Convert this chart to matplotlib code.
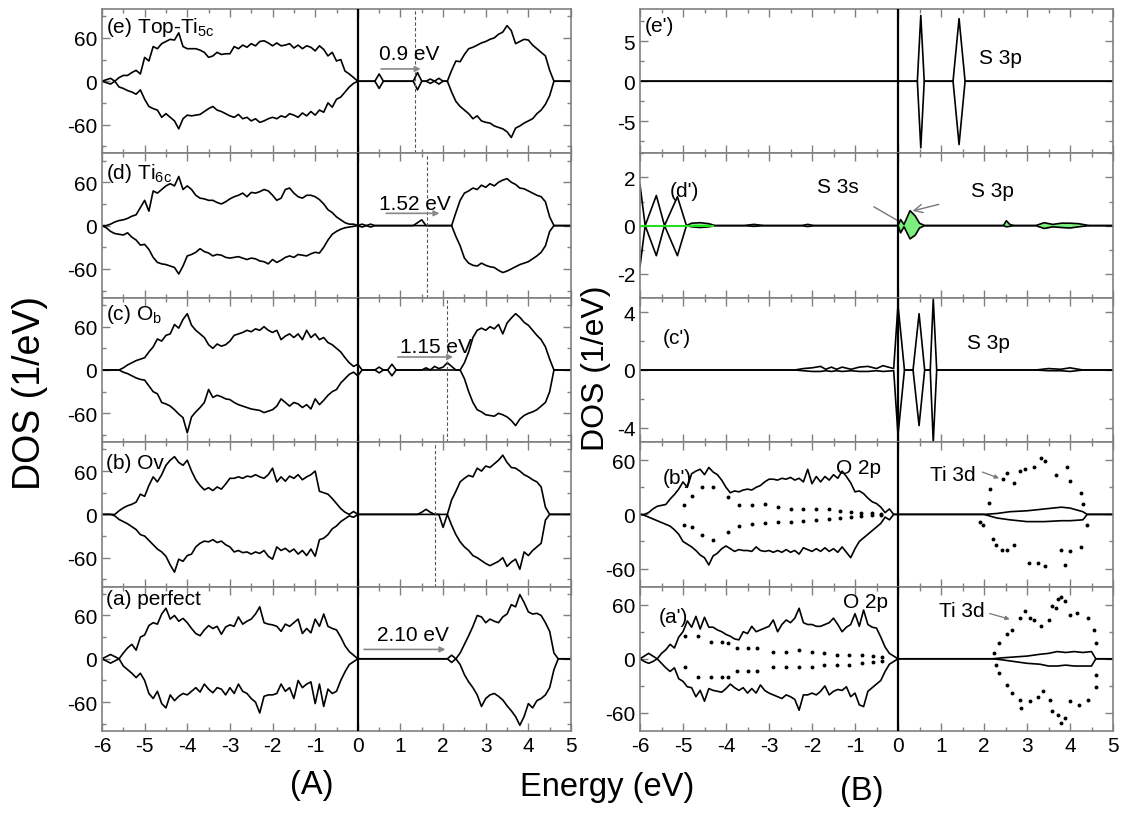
import numpy as np
import matplotlib
matplotlib.use("Agg")
import matplotlib.pyplot as plt
from matplotlib.ticker import MultipleLocator

plt.rcParams['font.family'] = ['Liberation Sans', 'DejaVu Sans']
plt.rcParams['mathtext.fontset'] = 'custom'
plt.rcParams['mathtext.rm'] = 'Liberation Sans'
plt.rcParams['axes.unicode_minus'] = False

# energy grids (eV): valence band -6..0, gap + conduction band 0.1..5
E_vb = np.linspace(-6.0, 0.0, 61)
E_cb = np.linspace(0.1, 5.0, 50)

# ---- (A) total DOS, spin up / spin down ----
e_vb_up = [0, 2, 4, 0, 5, 8, 8, 12, 15, 10,
           33, 28, 48, 45, 52, 55, 58, 57, 67, 48,
           45, 45, 45, 43, 40, 33, 35, 40, 37, 38,
           38, 48, 45, 50, 47, 52, 49, 55, 56, 53,
           49, 53, 49, 50, 52, 46, 50, 45, 49, 47,
           42, 49, 44, 35, 40, 28, 30, 14, 10, 5, 0]
e_vb_dn = [0, -2, -4, 0, -8, -10, -13, -15, -18, -12,
           -25, -35, -38, -40, -50, -45, -50, -55, -66, -52,
           -47, -48, -47, -46, -42, -38, -35, -40, -42, -45,
           -48, -50, -46, -52, -50, -55, -52, -57, -55, -52,
           -50, -52, -48, -50, -45, -47, -50, -44, -48, -42,
           -47, -40, -43, -30, -36, -25, -22, -15, -8, -3, 0]
e_cb_up = [0, 0, 0, 0, 10, 0, 0, 0, 0, 0,
           0, 0, 0, 12, 0, 0, 3, 0, 4, 0,
           0, 15, 28, 27, 37, 45, 47, 50, 53, 55,
           58, 60, 65, 68, 77, 70, 52, 55, 58, 57,
           50, 45, 40, 35, 15, 0, 0, 0, 0, 0]
e_cb_dn = [0, 0, 0, 0, -10, 0, 0, 0, 0, 0,
           0, 0, 0, -12, 0, 0, -3, 0, -4, 0,
           0, -15, -28, -35, -40, -45, -52, -48, -55, -57,
           -58, -62, -64, -66, -70, -78, -65, -62, -58, -55,
           -52, -45, -40, -32, -20, 0, 0, 0, 0, 0]

d_vb_up = [0, 0, 2, 5, 7, 8, 10, 13, 15, 25,
           35, 20, 48, 45, 50, 55, 58, 55, 68, 50,
           55, 50, 42, 38, 37, 35, 35, 32, 30, 33,
           37, 40, 42, 45, 40, 46, 45, 47, 50, 48,
           42, 35, 38, 50, 52, 45, 40, 38, 42, 42,
           40, 36, 30, 22, 18, 12, 8, 4, 2, 2, 0]
d_vb_dn = [0, -3, -8, -11, -12, -13, -10, -16, -20, -27,
           -26, -33, -44, -51, -53, -54, -56, -58, -67, -56,
           -42, -40, -37, -32, -36, -38, -42, -40, -41, -44,
           -45, -44, -43, -45, -47, -45, -46, -49, -50, -53,
           -47, -51, -48, -44, -42, -44, -40, -41, -42, -39,
           -37, -38, -30, -20, -12, -8, -5, -3, -2, -1, 0]
d_cb_up = [2, 0, 2, 0, 0, 0, 0, 0, 0, 0,
           0, 0, 0, 4, 8, 0, 0, 0, 0, 0,
           0, 0, 18, 35, 45, 48, 52, 50, 56, 53,
           58, 55, 60, 63, 65, 60, 57, 52, 51, 48,
           45, 42, 40, 33, 12, 0, 0, 0, 0, 0]
d_cb_dn = [-2, 0, -2, 0, 0, 0, 0, 0, 0, 0,
           0, 0, 0, 0, 0, 0, 0, 0, 0, 0,
           0, 0, -15, -28, -45, -52, -55, -56, -52, -55,
           -57, -58, -62, -65, -63, -60, -57, -54, -52, -50,
           -46, -42, -37, -28, -8, 0, 0, 0, 0, 0]

c_vb_up = [0, 0, 0, 0, 0, 3, 7, 10, 13, 15,
           17, 25, 32, 43, 40, 48, 50, 63, 58, 70,
           78, 62, 55, 50, 45, 35, 30, 36, 33, 35,
           40, 48, 50, 52, 55, 53, 57, 55, 60, 55,
           52, 55, 42, 47, 50, 45, 50, 42, 55, 45,
           50, 42, 45, 38, 35, 30, 25, 17, 10, 5, 8]
c_vb_dn = [0, 0, 0, 0, 0, -3, -5, -8, -11, -13,
           -14, -22, -30, -33, -45, -47, -50, -55, -61, -66,
           -87, -65, -58, -52, -45, -27, -38, -35, -37, -40,
           -41, -45, -48, -50, -52, -54, -55, -56, -59, -57,
           -55, -50, -40, -45, -50, -45, -47, -52, -48, -54,
           -40, -48, -42, -35, -30, -27, -18, -12, -6, -3, -8]
c_cb_up = [0, 0, 0, 0, 4, 0, 0, 8, 0, 0,
           0, 0, 0, 0, 0, 3, 0, 5, 2, 4,
           10, 5, 0, 0, 10, 25, 45, 55, 58, 55,
           60, 57, 63, 50, 65, 72, 78, 73, 66, 62,
           55, 48, 42, 32, 15, 0, 0, 0, 0, 0]
c_cb_dn = [0, 0, 0, 0, -4, 0, 0, -8, 0, 0,
           0, 0, 0, 0, 0, 0, 0, 0, 0, 0,
           0, 0, 0, 0, -12, -30, -45, -55, -58, -62,
           -63, -64, -60, -62, -65, -70, -77, -68, -63, -60,
           -58, -55, -50, -45, -30, 0, 0, 0, 0, 0]

b_vb_up = [0, 0, 0, 0, 5, 9, 12, 14, 17, 28,
           25, 40, 52, 45, 55, 68, 75, 80, 72, 68,
           75, 60, 48, 40, 34, 37, 33, 38, 35, 42,
           50, 50, 52, 50, 53, 52, 55, 52, 50, 55,
           64, 45, 52, 46, 53, 50, 55, 48, 52, 55,
           60, 32, 30, 28, 22, 15, 8, 3, 0, 4, 0]
b_vb_dn = [0, 0, 0, -2, -7, -10, -13, -17, -21, -28,
           -30, -36, -42, -48, -52, -58, -70, -80, -62, -65,
           -57, -55, -45, -40, -37, -38, -35, -39, -37, -42,
           -45, -52, -50, -53, -52, -55, -52, -54, -50, -58,
           -62, -45, -50, -47, -52, -48, -55, -50, -57, -48,
           -58, -35, -33, -28, -20, -16, -10, -6, -2, -4, 0]
b_cb_up = [0, 0, 0, 0, 0, 0, 0, 0, 0, 0,
           0, 0, 0, 0, 3, 7, 3, 0, 0, 0,
           0, 20, 32, 45, 50, 54, 52, 64, 60, 67,
           65, 70, 75, 82, 72, 65, 64, 60, 55, 52,
           48, 45, 38, 10, 0, 0, 0, 0, 0, 0]
b_cb_dn = [0, 0, 0, 0, 0, 0, 0, 0, 0, 0,
           0, 0, 0, 0, 0, 0, 0, 0, 0, -18,
           0, -15, -28, -38, -45, -50, -57, -60, -64, -68,
           -71, -68, -65, -60, -72, -66, -62, -76, -52, -57,
           -50, -45, -40, -8, 0, 0, 0, 0, 0, 0]

a_vb_up = [0, 3, 6, 3, 0, 8, 15, 20, 12, 30,
           33, 46, 50, 48, 62, 70, 55, 60, 52, 56,
           50, 42, 35, 32, 40, 46, 42, 45, 34, 44,
           47, 45, 58, 48, 52, 55, 62, 72, 50, 48,
           47, 45, 38, 48, 45, 50, 55, 35, 42, 36,
           55, 45, 62, 45, 42, 40, 30, 18, 10, 5, 0]
a_vb_dn = [0, -3, -6, -3, 0, -10, -15, -20, -26, -20,
           -30, -48, -55, -45, -62, -68, -50, -58, -52, -48,
           -50, -45, -40, -46, -35, -42, -47, -40, -42, -50,
           -40, -48, -35, -45, -48, -55, -60, -75, -52, -50,
           -50, -48, -35, -45, -40, -55, -30, -40, -35, -32,
           -62, -35, -66, -42, -48, -45, -30, -18, -8, -4, 0]
a_cb_up = [0, 0, 0, 0, 0, 0, 0, 0, 0, 0,
           0, 0, 0, 0, 0, 0, 0, 0, 0, 0,
           0, 5, 0, 8, 20, 32, 45, 60, 58, 50,
           55, 52, 50, 58, 62, 75, 72, 89, 78, 65,
           62, 63, 60, 50, 38, 8, 0, 0, 0, 0]
a_cb_dn = [0, 0, 0, 0, 0, 0, 0, 0, 0, 0,
           0, 0, 0, 0, 0, 0, 0, 0, 0, 0,
           0, -5, 0, -8, -22, -32, -40, -50, -66, -55,
           -50, -48, -52, -57, -65, -72, -80, -92, -80, -62,
           -68, -58, -55, -50, -40, -15, 0, 0, 0, 0]

left_labels = [r'(e) Top-Ti$_{\mathregular{5c}}$', r'(d) Ti$_{\mathregular{6c}}$',
               r'(c) O$_{\mathregular{b}}$', '(b) Ov', '(a) perfect']
label_y = [0.88, 0.87, 0.89, 0.86, 0.92]
gap_text = ['0.9 eV', '1.52 eV', '1.15 eV', None, '2.10 eV']
gap_from = [0.48, 0.60, 0.87, None, 0.08]
gap_to = [1.54, 1.98, 2.30, None, 2.12]
gap_arrow_y = [17, 17, 18, None, 13]
gap_text_xy = [(1.21, 38), (1.33, 30), (1.84, 33), None, (1.29, 33)]
fermi_dash = [1.33, 1.62, 2.08, 1.80, None]

# ---- (B) S partial DOS ----
ep_E = [-6.0, 0.45, 0.53, 0.61, 1.28, 1.42, 1.56, 5.0]
ep_up = [0, 0, 8.2, 0, 0, 7.8, 0, 0]
ep_dn = [0, 0, -8.3, 0, 0, -7.9, 0, 0]

dp_E = [-6.0, -5.88, -5.62, -5.43, -5.13, -4.92, -4.8, -4.6, -4.4, -4.25,
        -3.6, -3.35, -3.1, -2.25, -2.1, -1.95, 0.0, 0.06, 0.14, 0.28,
        0.4, 0.5, 0.62, 2.45, 2.52, 2.6, 2.7, 3.2, 3.4, 3.6,
        3.8, 4.0, 4.2, 4.45, 5.0]
dp_up = [1.7, 0, 1.25, 0, 1.2, 0, 0.1, 0.12, 0.08, 0,
         0, 0.05, 0, 0, 0.05, 0, 0, 0.25, 0.05, 0.62,
         0.4, 0.1, 0, 0, 0.2, 0.05, 0, 0, 0.12, 0.05,
         0.1, 0.1, 0.08, 0, 0]
dp_dn = [-1.7, 0, -1.25, 0, -1.25, 0, -0.05, -0.08, -0.05, 0,
         0, -0.03, 0, 0, -0.04, 0, 0, -0.3, -0.05, -0.55,
         -0.4, -0.1, 0, 0, -0.05, -0.03, 0, 0, -0.12, -0.05,
         -0.08, -0.1, -0.05, 0, 0]
dp_s3s_line = [-6.0, -4.3]

cp_E = [-6.0, -2.4, -2.2, -2.0, -1.8, -1.68, -1.55, -1.43, -1.3, -1.09,
        -0.9, -0.7, -0.5, -0.35, -0.1, 0.0, 0.15, 0.35, 0.49, 0.62,
        0.75, 0.82, 0.9, 3.2, 3.5, 3.78, 4.0, 4.3, 5.0]
cp_up = [0, 0, 0.1, 0.15, 0.25, 0.05, 0.2, 0.05, 0.2, 0.05,
         0.2, 0.25, 0.1, 0.3, 0.1, 4.5, 0, 0, 3.9, 0,
         0, 4.9, 0, 0, 0.1, 0.05, 0.15, 0, 0]
cp_dn = [0, 0, -0.05, -0.1, -0.1, -0.05, -0.1, -0.05, -0.1, -0.05,
         -0.1, -0.1, -0.05, -0.1, -0.05, -4.5, 0, 0, -3.85, 0,
         0, -5.0, 0, 0, -0.05, -0.05, -0.1, 0, 0]

# O 2p of neighbours (solid) and Ti 3d (dots)
bp_o2p_up = [0, 0, 2, 6, 9, 10, 11, 17, 22, 28,
             36, 30, 45, 48, 50, 44, 52, 47, 44, 38,
             30, 24, 26, 25, 27, 28, 27, 30, 32, 36,
             39, 39, 38, 40, 39, 41, 38, 40, 36, 50,
             34, 42, 36, 42, 38, 44, 40, 48, 42, 35,
             25, 26, 23, 18, 14, 12, 8, 2, 6, 0, 0]
bp_o2p_dn = [0, -1, -3, -5, -7, -9, -11, -13, -17, -22,
             -30, -33, -36, -40, -45, -48, -56, -46, -43, -38,
             -35, -38, -41, -39, -40, -40, -41, -36, -40, -41,
             -40, -42, -40, -42, -39, -42, -40, -44, -37, -39,
             -41, -38, -41, -37, -41, -38, -42, -36, -42, -48,
             -38, -30, -26, -22, -18, -14, -10, -3, -6, 0, 0]
bp_cb_E = [0.0, 2.0, 2.3, 2.6, 3.0, 3.4, 3.8, 4.0, 4.3, 4.4, 5.0]
bp_cb_up = [0, 0, 1, 3, 4, 6, 8, 7, 3, 0, 0]
bp_cb_dn = [0, 0, -4, -6, -8, -8, -7, -7, -6, 0, 0]
bp_ti_vb_E = [-4.97, -4.8, -4.55, -4.3, -3.96, -3.7, -3.4, -3.1, -2.8,
              -2.5, -2.2, -1.9, -1.6, -1.35, -1.1, -0.85, -0.6, -0.4]
bp_ti_vb_up = [10, 20, 30, 30, 19, 10, 10, 12, 8, 6, 6, 6, 6, 4, 3, 1, 1, 0.5]
bp_ti_vb_dn = [-12, -14, -23, -28, -19, -13, -11, -9, -8, -8, -7, -6, -5, -4, -3, -2, -1, -1]
bp_ti_up_E = [2.11, 2.15, 2.45, 2.53, 2.7, 2.83, 2.95, 3.17, 3.33, 3.42, 3.67, 3.92, 4.0, 4.26, 4.3]
bp_ti_up = [13, 28, 39, 46, 35, 48, 50, 52, 63, 59, 44, 52, 37, 24, 12]
bp_ti_dn_E = [1.9, 1.98, 2.2, 2.28, 2.41, 2.53, 2.7, 3.04, 3.25, 3.42, 3.8, 3.88, 4.0, 4.26, 4.39]
bp_ti_dn = [-8, -12, -27, -34, -39, -39, -34, -54, -54, -57, -39, -56, -41, -36, -12]

ap_o2p_up = [0, 3, 6, 3, 0, 6, 10, 16, 12, 24,
             30, 42, 35, 47, 33, 46, 35, 35, 32, 30,
             27, 25, 22, 21, 30, 28, 36, 30, 32, 34,
             36, 43, 30, 38, 43, 40, 45, 56, 40, 38,
             38, 36, 36, 38, 40, 45, 38, 30, 35, 38,
             50, 36, 54, 38, 35, 34, 24, 13, 6, 3, 0]
ap_o2p_dn = [0, -3, -5, -3, 0, -5, -10, -14, -10, -22,
             -25, -31, -32, -42, -35, -47, -33, -35, -36, -37,
             -33, -28, -32, -35, -32, -38, -33, -38, -29, -35,
             -38, -40, -42, -44, -40, -42, -45, -57, -40, -40,
             -38, -40, -36, -30, -40, -36, -34, -35, -31, -42,
             -38, -51, -53, -36, -32, -28, -24, -14, -6, -3, 0]
ap_cb_E = [0.0, 2.2, 2.4, 2.7, 3.0, 3.3, 3.5, 3.7, 3.9, 4.1, 4.3, 4.5, 4.6, 5.0]
ap_cb_up = [0, 0, 1, 2, 3, 5, 6, 8, 7, 8, 7, 8, 0, 0]
ap_cb_dn = [0, 0, -1, -3, -5, -6, -8, -8, -7, -8, -8, -8, 0, 0]
ap_ti_vb_E = [-4.95, -4.65, -4.35, -4.1, -3.95, -3.75, -3.5, -3.28, -2.9,
              -2.6, -2.3, -2.0, -1.73, -1.43, -1.13, -0.84, -0.59, -0.38]
ap_ti_vb_up = [25, 25, 19, 19, 18, 12, 12, 12, 8, 8, 10, 8, 6, 4, 4, 4, 3, 2]
ap_ti_vb_dn = [-9, -20, -20, -20, -20, -14, -14, -14, -9, -9, -9, -9, -7, -7, -7, -5, -4, -2]
ap_ti_up_E = [2.24, 2.36, 2.53, 2.66, 2.83, 2.95, 3.08, 3.17, 3.33, 3.5,
              3.58, 3.67, 3.71, 3.8, 3.88, 4.0, 4.17, 4.43, 4.55, 4.6]
ap_ti_up = [6, 17, 27, 32, 45, 53, 45, 43, 36, 43, 58, 56, 66, 69, 64, 49, 51, 45, 32, 17]
ap_ti_dn_E = [2.28, 2.36, 2.53, 2.66, 2.83, 2.87, 3.08, 3.25, 3.38, 3.54,
              3.58, 3.71, 3.8, 3.88, 4.0, 4.22, 4.43, 4.6, 4.6]
ap_ti_dn = [-7, -16, -29, -38, -46, -55, -47, -42, -36, -46, -58, -62, -71, -66, -47, -51, -46, -31, -18]

W, H = 1123, 820
ROW_TOPS = [10, 154.4, 298.8, 443.2, 587.6]
ROW_H = 144.4
GRAY = '#808080'
LW = 1.2


def rect(x0, x1, row):
    top = ROW_TOPS[row]
    return [x0 / W, 1 - (top + ROW_H) / H, (x1 - x0) / W, ROW_H / H]


def setup(ax, ylim, major, minor, show_x):
    ax.set_xlim(-6, 5)
    ax.set_ylim(-ylim, ylim)
    ax.xaxis.set_major_locator(MultipleLocator(1))
    ax.xaxis.set_minor_locator(MultipleLocator(0.5))
    ax.yaxis.set_major_locator(MultipleLocator(major))
    ax.yaxis.set_minor_locator(MultipleLocator(minor))
    ax.tick_params(which='both', direction='in', top=True, right=True,
                   color=GRAY, labelsize=15, labelbottom=show_x)
    ax.tick_params(which='major', length=6, width=1)
    ax.tick_params(which='minor', length=3, width=1)
    for s in ax.spines.values():
        s.set_color(GRAY)
        s.set_linewidth(1.2)
    ax.axvline(0, color='black', lw=1.6, zorder=4)


fig = plt.figure(figsize=(11.23, 8.2), dpi=100)

# column (A)
left_data = [(e_vb_up, e_vb_dn, e_cb_up, e_cb_dn),
             (d_vb_up, d_vb_dn, d_cb_up, d_cb_dn),
             (c_vb_up, c_vb_dn, c_cb_up, c_cb_dn),
             (b_vb_up, b_vb_dn, b_cb_up, b_cb_dn),
             (a_vb_up, a_vb_dn, a_cb_up, a_cb_dn)]
E_all = np.concatenate([E_vb, E_cb])
for i, (vu, vd, cu, cd) in enumerate(left_data):
    ax = fig.add_axes(rect(102, 571, i))
    setup(ax, 100, 60, 30, i == 4)
    ax.plot(E_all, np.concatenate([vu, cu]), color='black', lw=LW)
    ax.plot(E_all, np.concatenate([vd, cd]), color='black', lw=LW)
    ax.text(0.008, label_y[i], left_labels[i], transform=ax.transAxes,
            fontsize=15, va='center', ha='left')
    if fermi_dash[i] is not None:
        ax.axvline(fermi_dash[i], color='#555555', lw=0.8, ls=(0, (3, 2)))
    if gap_text[i] is not None:
        ax.annotate('', xy=(gap_to[i], gap_arrow_y[i]), xytext=(gap_from[i], gap_arrow_y[i]),
                    arrowprops=dict(arrowstyle='-|>', color='#888888', lw=1.2,
                                    mutation_scale=8))
        ax.text(gap_text_xy[i][0], gap_text_xy[i][1], gap_text[i], fontsize=15,
                ha='center', va='center')

# column (B)
ax = fig.add_axes(rect(640, 1113, 0))
setup(ax, 9, 5, 2.5, False)
ax.plot(ep_E, ep_up, color='black', lw=LW)
ax.plot(ep_E, ep_dn, color='black', lw=LW)
ax.text(-5.88, 6.9, "(e')", fontsize=15, va='center')
ax.text(2.39, 3.0, 'S 3p', fontsize=15, ha='center', va='center')

ax = fig.add_axes(rect(640, 1113, 1))
setup(ax, 3, 2, 1, False)
dpE = np.array(dp_E)
ax.fill_between(dpE, dp_dn, dp_up, where=dpE > -4.95, color='#7cf07c', lw=0, zorder=1)
ax.plot(dp_s3s_line, [0, 0], color='#22dd22', lw=1.5, zorder=3)
ax.plot(dp_E, dp_up, color='black', lw=LW, zorder=2)
ax.plot(dp_E, dp_dn, color='black', lw=LW, zorder=2)
ax.text(-5.31, 1.44, "(d')", fontsize=15, va='center')
ax.annotate('S 3s', xy=(0.0, 0.2), xytext=(-1.39, 1.64), fontsize=15, ha='center', va='center',
            arrowprops=dict(arrowstyle='-', color='#777777', lw=1, shrinkA=12, shrinkB=0))
ax.annotate('S 3p', xy=(0.34, 0.61), xytext=(2.2, 1.44), fontsize=15, ha='center', va='center',
            arrowprops=dict(arrowstyle='->', color='#777777', lw=1, shrinkA=22, shrinkB=0))

ax = fig.add_axes(rect(640, 1113, 2))
setup(ax, 5, 4, 2, False)
ax.plot(cp_E, cp_up, color='black', lw=LW)
ax.plot(cp_E, cp_dn, color='black', lw=LW)
ax.text(-5.48, 2.26, "(c')", fontsize=15, va='center')
ax.text(2.11, 1.9, 'S 3p', fontsize=15, ha='center', va='center')

right_low = [("(b')", bp_o2p_up, bp_o2p_dn, bp_cb_E, bp_cb_up, bp_cb_dn,
              bp_ti_vb_E, bp_ti_vb_up, bp_ti_vb_dn, bp_ti_up_E, bp_ti_up, bp_ti_dn_E, bp_ti_dn,
              (-5.48, 40.8), (-0.93, 51.7), (1.27, 44), (1.9, 48), (2.41, 39)),
             ("(a')", ap_o2p_up, ap_o2p_dn, ap_cb_E, ap_cb_up, ap_cb_dn,
              ap_ti_vb_E, ap_ti_vb_up, ap_ti_vb_dn, ap_ti_up_E, ap_ti_up, ap_ti_dn_E, ap_ti_dn,
              (-5.56, 47), (-0.76, 63.7), (1.48, 54), (2.07, 51), (2.66, 43))]
for k, row in enumerate(right_low):
    (lab, ou, od, cbE, cbu, cbd, tvE, tvu, tvd, tuE, tu, tdE, td,
     lab_xy, o_xy, ti_xy, arr_from, arr_to) = row
    ax = fig.add_axes(rect(640, 1113, 3 + k))
    setup(ax, 80, 60, 30, k == 1)
    ax.plot(E_vb, ou, color='black', lw=LW)
    ax.plot(E_vb, od, color='black', lw=LW)
    ax.plot(cbE, cbu, color='black', lw=LW)
    ax.plot(cbE, cbd, color='black', lw=LW)
    for xs, ys in [(tvE, tvu), (tvE, tvd), (tuE, tu), (tdE, td)]:
        ax.plot(xs, ys, ls='none', marker='o', ms=1.8, color='black')
    ax.text(lab_xy[0], lab_xy[1], lab, fontsize=15, va='center')
    ax.text(o_xy[0], o_xy[1], 'O 2p', fontsize=15, ha='center', va='center')
    ax.text(ti_xy[0], ti_xy[1], 'Ti 3d', fontsize=15, ha='center', va='center')
    ax.annotate('', xy=arr_to, xytext=arr_from,
                arrowprops=dict(arrowstyle='-|>', color='#777777', lw=0.9, mutation_scale=6))

fig.text(30 / W, 1 - 393 / H, 'DOS (1/eV)', rotation=90, fontsize=27, ha='center', va='center')
fig.text(596 / W, 1 - 368 / H, 'DOS (1/eV)', rotation=90, fontsize=23, ha='center', va='center')
fig.text(607 / W, 1 - 788 / H, 'Energy (eV)', fontsize=23.5, ha='center', va='center')
fig.text(312 / W, 1 - 786 / H, '(A)', fontsize=23.5, ha='center', va='center')
fig.text(862 / W, 1 - 792 / H, '(B)', fontsize=23.5, ha='center', va='center')

fig.savefig('out.png', dpi=100)
